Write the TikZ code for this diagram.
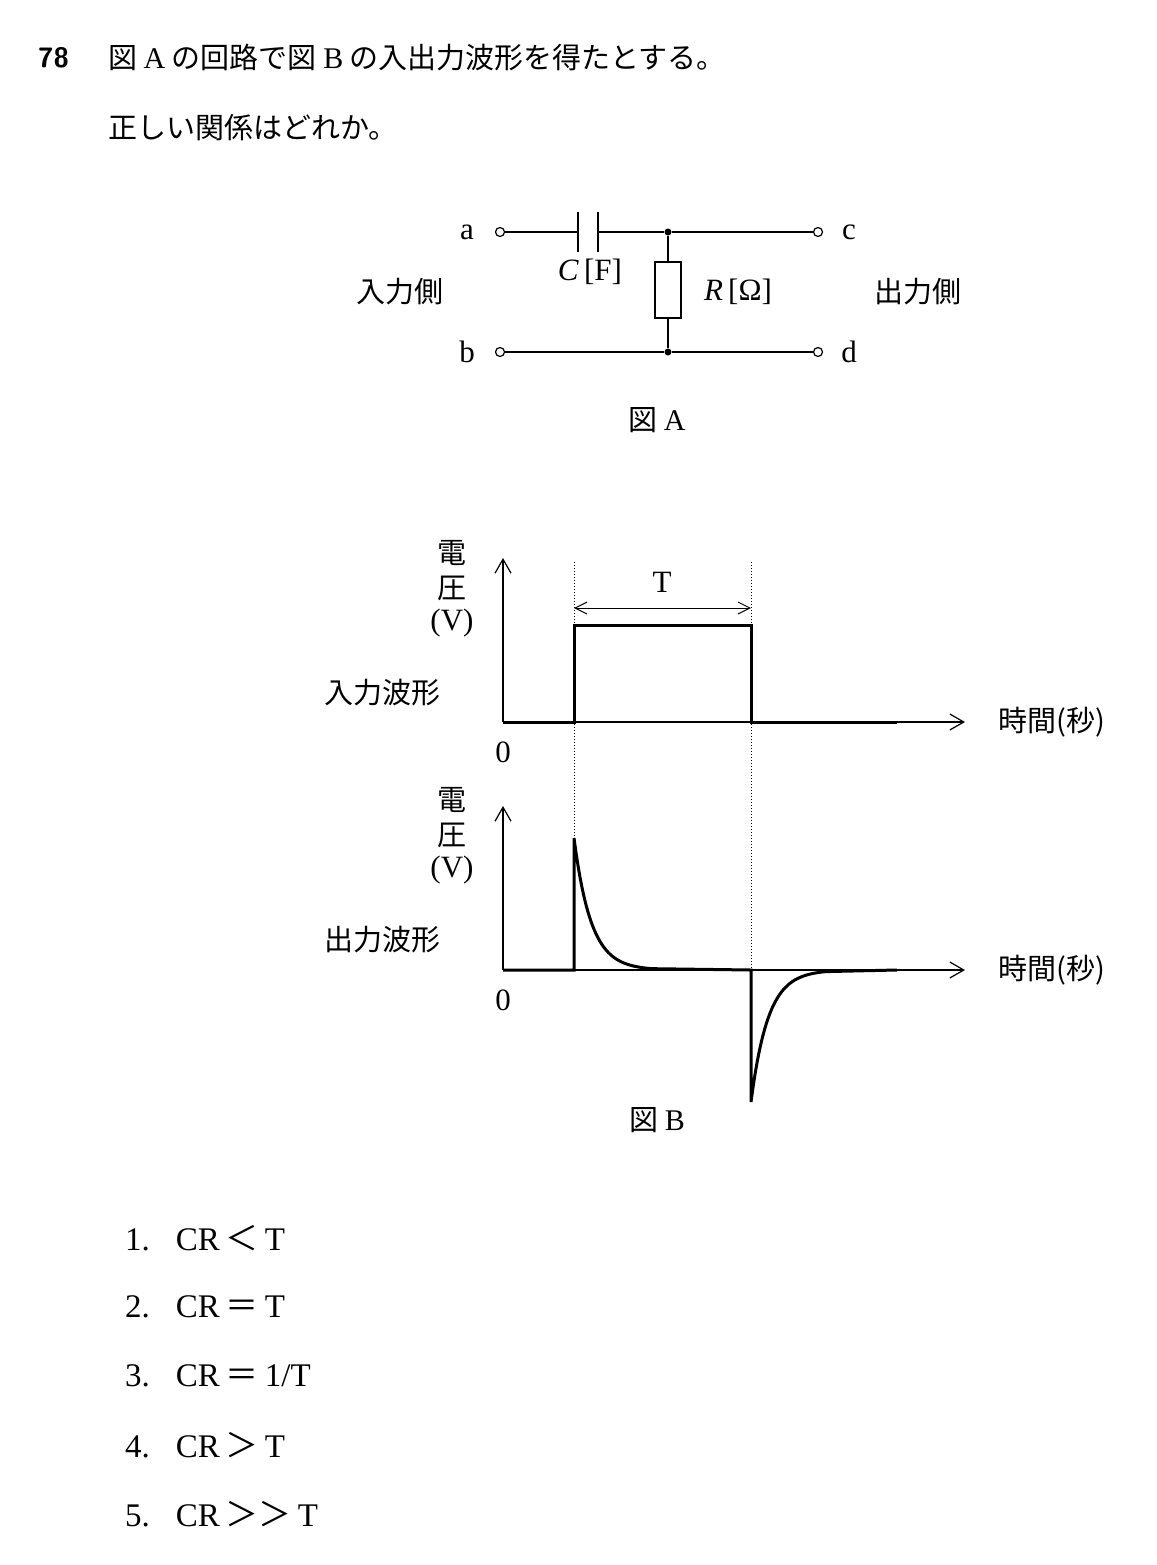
\documentclass[tikz,border=0pt]{standalone}
\usepackage{fontspec}
\setmainfont{Liberation Serif}
\newfontfamily\cjk{Noto Sans CJK JP}
\usetikzlibrary{arrows.meta}
\newcommand{\osym}[1]{\hspace{6pt}{\cjk #1}\hspace{6pt}}
\begin{document}
\begin{tikzpicture}[x=1pt,y=-1pt,
  txt/.style={font=\fontsize{29}{34}\selectfont\cjk, inner sep=0pt},
  lat/.style={font=\fontsize{31}{34}\selectfont, inner sep=0pt},
  opt/.style={font=\fontsize{33}{36}\selectfont, inner sep=0pt, anchor=west},
  wire/.style={line width=1.4pt},
  thick wave/.style={line width=3pt},
  term/.style={circle,draw,line width=1.2pt,fill=white,inner sep=0pt,minimum size=9pt},
  dot/.style={circle,fill,inner sep=0pt,minimum size=7pt},
  ax/.style={line width=1.2pt,-{Straight Barb[length=14pt,width=16pt]}},
  dots/.style={line width=1pt,dotted}]
\useasboundingbox (0,0) rectangle (1156,1565);
\fill[white] (0,0) rectangle (1156,1565);
% title
\node[anchor=west,inner sep=0pt,font=\fontsize{28}{34}\selectfont\sffamily\bfseries] (num) at (38,58) {78};
\node[txt,anchor=west] (t1) at (108,58) {図 {\fontsize{30}{34}\selectfont\rmfamily A} の回路で図 {\fontsize{30}{34}\selectfont\rmfamily B} の入出力波形を得たとする。};
\node[txt,anchor=west] (t2) at (108,128) {正しい関係はどれか。};
% circuit
\node[term] (a) at (500,232) {};
\node[term] (b) at (500,352) {};
\node[term] (c) at (818,232) {};
\node[term] (d) at (818,352) {};
\node[dot] (n1) at (668,232) {};
\node[dot] (n2) at (668,352) {};
\coordinate (p1) at (578,232);
\coordinate (p2) at (598,232);
\draw[wire] (a) -- (p1);
\draw[wire] (578,212) -- (578,252);
\draw[wire] (598,212) -- (598,252);
\draw[wire] (p2) -- (n1) -- (c);
\draw[wire] (b) -- (n2) -- (d);
\node[draw,line width=1.2pt,minimum width=26pt,minimum height=56pt,inner sep=0pt] (R) at (668,290) {};
\draw[wire] (n1) -- (R.north);
\draw[wire] (R.south) -- (n2);
\node[lat] (la) at (467,232) {a};
\node[lat] (lb) at (467,352) {b};
\node[lat] (lc) at (849,232) {c};
\node[lat] (ld) at (849,352) {d};
\node[txt] (in) at (400,292) {入力側};
\node[txt] (out) at (918,292) {出力側};
\node[lat] (lC) at (590,272) {\textit{C}\,[F]};
\node[lat] (lR) at (738,292) {\textit{R}\,[Ω]};
\node[txt] (figA) at (657,420) {図 {\fontsize{30}{34}\selectfont\rmfamily A}};
% graph 1
\coordinate (o1) at (503,722);
\coordinate (y1) at (503,558);
\coordinate (x1) at (965,722);
\draw[ax] (o1) -- (y1);
\draw[ax] (o1) -- (x1);
\draw[dots] (574,562) -- (574,970);
\draw[dots] (751,562) -- (751,970);
\draw[line width=1pt,{Straight Barb[length=12pt,width=12pt]}-{Straight Barb[length=12pt,width=12pt]}] (574,608) -- (751,608);
\node[lat] (T) at (662,582) {T};
\draw[thick wave] (503,722) -- (574,722) -- (574,625) -- (751,625) -- (751,722) -- (897,722);
\node[lat] (z1) at (503,752) {0};
\node[txt] (v1a) at (452,553) {電};
\node[txt] (v1b) at (452,588) {圧};
\node[lat] (v1c) at (452,623) {(V)};
\node[txt] (w1) at (382,693) {入力波形};
\node[txt] (tm1) at (1052,722) {時間(秒)};
% graph 2
\coordinate (o2) at (503,970);
\coordinate (y2) at (503,806);
\coordinate (x2) at (965,970);
\draw[ax] (o2) -- (y2);
\draw[ax] (o2) -- (x2);
\draw[thick wave] (503,970) -- (574,970) -- (574,838)
  plot[domain=574:652,samples=40] (\x,{970-132*exp(-(\x-574)/17)}) -- (751,970) -- (751,1102)
  plot[domain=751:826,samples=40] (\x,{970+132*exp(-(\x-751)/17)}) -- (897,970);
\node[lat] (z2) at (503,1000) {0};
\node[txt] (v2a) at (452,800) {電};
\node[txt] (v2b) at (452,835) {圧};
\node[lat] (v2c) at (452,870) {(V)};
\node[txt] (w2) at (382,940) {出力波形};
\node[txt] (tm2) at (1052,970) {時間(秒)};
\node[txt] (figB) at (657,1120) {図 {\fontsize{30}{34}\selectfont\rmfamily B}};
% options
\node[opt] (o1t) at (125,1238) {1.\hspace{26pt}CR\osym{＜}T};
\node[opt] (o2t) at (125,1307) {2.\hspace{26pt}CR\osym{＝}T};
\node[opt] (o3t) at (125,1376) {3.\hspace{26pt}CR\osym{＝}1/T};
\node[opt] (o4t) at (125,1445) {4.\hspace{26pt}CR\osym{＞}T};
\node[opt] (o5t) at (125,1514) {5.\hspace{26pt}CR\osym{＞＞}T};
\end{tikzpicture}
\end{document}
